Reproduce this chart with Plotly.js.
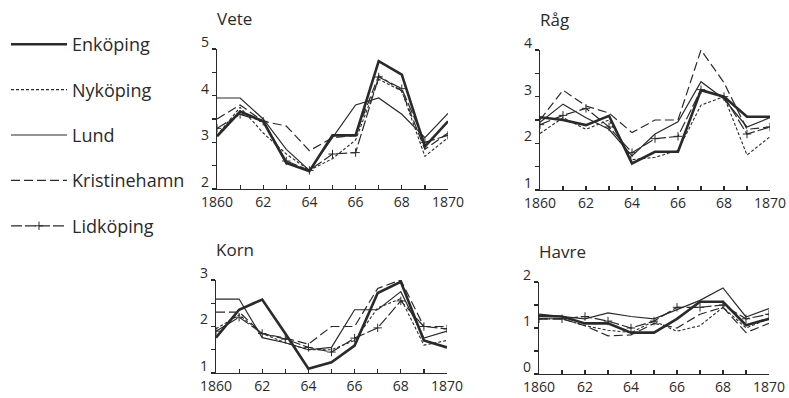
<!DOCTYPE html>
<html>
<head>
<meta charset="utf-8">
<script src="https://cdn.plot.ly/plotly-3.0.1.min.js"></script>
<style>html,body{margin:0;padding:0;background:#fff;}#chart{width:789px;height:398px;}</style>
</head>
<body>
<div id="chart"></div>
<script>
const years = [1860,1861,1862,1863,1864,1865,1866,1867,1868,1869,1870];
const cities = ["Enköping","Nyköping","Lund","Kristinehamn","Lidköping"];
const panelTitles = ["Vete","Råg","Korn","Havre"];
const xTickText = ["1860","","62","","64","","66","","68","","1870"];

const veteEnk   = [3.13,3.66,3.45,2.56,2.38,3.15,3.15,4.74,4.45,2.91,3.45];
const veteNyk   = [3.15,3.75,3.20,2.75,2.40,2.65,3.05,4.35,4.10,2.70,3.10];
const veteLund  = [3.95,3.95,3.50,2.85,2.40,3.10,3.80,3.95,3.60,3.10,3.62];
const veteKrist = [3.50,3.80,3.45,3.35,2.82,3.10,3.15,4.43,4.10,2.85,3.20];
const veteLid   = [3.30,3.60,3.45,2.60,2.40,2.75,2.78,4.40,4.15,3.00,3.15];

const ragEnk    = [2.56,2.50,2.39,2.59,1.57,1.82,1.82,3.14,3.00,2.57,2.57];
const ragNyk    = [2.21,2.55,2.30,2.50,1.65,1.70,1.85,2.82,3.00,1.75,2.14];
const ragLund   = [2.45,2.84,2.55,2.30,1.73,2.20,2.46,3.32,2.95,2.35,2.55];
const ragKrist  = [2.50,3.14,2.80,2.65,2.23,2.50,2.50,4.00,3.30,2.30,2.35];
const ragLid    = [2.40,2.60,2.75,2.35,1.80,2.10,2.15,3.15,3.00,2.20,2.35];

const kornEnk   = [1.76,2.36,2.58,1.85,1.09,1.23,1.59,2.72,2.96,1.70,1.55];
const kornNyk   = [1.95,2.25,1.85,1.65,1.50,1.50,1.70,2.40,2.60,1.60,1.70];
const kornLund  = [2.59,2.59,1.76,1.65,1.50,1.55,2.36,2.36,2.75,1.75,1.90];
const kornKrist = [2.31,2.31,1.85,1.75,1.62,2.00,2.00,2.82,3.00,2.00,2.00];
const kornLid   = [1.90,2.20,1.85,1.73,1.55,1.45,1.75,1.97,2.55,2.00,1.95];

const havreEnk   = [1.26,1.25,1.10,1.10,0.90,0.90,1.20,1.57,1.57,1.06,1.20];
const havreNyk   = [1.20,1.20,1.05,0.95,0.90,1.15,0.93,1.05,1.45,1.00,1.20];
const havreLund  = [1.30,1.25,1.20,1.33,1.25,1.20,1.40,1.60,1.87,1.24,1.42];
const havreKrist = [1.20,1.20,1.05,0.83,0.85,1.10,1.00,1.30,1.45,0.90,1.10];
const havreLid   = [1.20,1.20,1.25,1.15,1.00,1.15,1.45,1.45,1.50,1.20,1.30];

const panelData = [
  [veteEnk, veteNyk, veteLund, veteKrist, veteLid],
  [ragEnk, ragNyk, ragLund, ragKrist, ragLid],
  [kornEnk, kornNyk, kornLund, kornKrist, kornLid],
  [havreEnk, havreNyk, havreLund, havreKrist, havreLid]
];
const yRanges = [[2,5],[1,4],[1,3],[0,2]];

const ink = "#2a2a2a";
const styles = [
  {line:{color:ink, width:2.6, dash:"solid"}, mode:"lines"},
  {line:{color:ink, width:1.1, dash:"3px,2px"}, mode:"lines"},
  {line:{color:ink, width:1.2, dash:"solid"}, mode:"lines"},
  {line:{color:ink, width:1.2, dash:"9px,4px"}, mode:"lines"},
  {line:{color:ink, width:1.2, dash:"11px,3px"}, mode:"lines+markers",
   marker:{symbol:"cross-thin-open", size:6, color:ink, line:{color:ink, width:1}}}
];

const W = 789, H = 398;
// pixel boxes [left, right, top, bottom]
const boxes = [[217,448,49,189],[540,770,50,190],[216,447,280,373],[539,769,282,374]];

const traces = [];
panelData.forEach((series, p) => {
  const ax = p === 0 ? "" : String(p+1);
  series.forEach((vals, i) => {
    const t = {
      x: years, y: vals, type:"scatter",
      name: cities[i], legendgroup: cities[i],
      showlegend: p === 0,
      xaxis: "x"+ax, yaxis: "y"+ax,
      mode: styles[i].mode, line: styles[i].line, hoverinfo:"skip"
    };
    if (styles[i].marker) t.marker = styles[i].marker;
    traces.push(t);
  });
});

const fam = "Open Sans, DejaVu Sans, sans-serif";
const tickFont = {family:fam, size:14, color:ink};
const layout = {
  width: W, height: H,
  margin:{l:0,r:0,t:0,b:0},
  paper_bgcolor:"#ffffff", plot_bgcolor:"#ffffff",
  showlegend:true,
  legend:{x:6/W, y:1-26/H, xanchor:"left", yanchor:"top",
    font:{family:fam, size:18, color:ink},
    traceorder:"grouped", tracegroupgap:19, itemwidth:56, bgcolor:"rgba(0,0,0,0)"},
  annotations: [],
  font: tickFont
};
boxes.forEach((b, p) => {
  const ax = p === 0 ? "" : String(p+1);
  const [yl, yh] = yRanges[p];
  const yv = [], yt = [];
  for (let v = yl; v <= yh + 1e-9; v += 0.5) {
    yv.push(v);
    yt.push(Math.abs(v - Math.round(v)) < 1e-9 ? String(v) : "");
  }
  layout["xaxis"+ax] = {
    domain:[b[0]/W, b[1]/W], range:[1860,1870], anchor:"y"+ax,
    showline:true, linecolor:ink, linewidth:1.3, showgrid:false, zeroline:false,
    ticks:"inside", ticklen:4, tickwidth:1.2, tickcolor:ink,
    tickvals: years, ticktext: xTickText, tickfont: tickFont
  };
  layout["yaxis"+ax] = {
    domain:[1-b[3]/H, 1-b[2]/H], range:yRanges[p], anchor:"x"+ax,
    showline:true, linecolor:ink, linewidth:1.3, showgrid:false, zeroline:false,
    ticks:"outside", ticklen:4, tickwidth:1.2, tickcolor:ink,
    tickvals: yv, ticktext: yt, tickfont: {family:fam, size:14, color:ink}, ticklabelshift:-7
  };
  layout.annotations.push({
    text: panelTitles[p], xref:"x"+ax+" domain", yref:"y"+ax+" domain",
    x:0, y:1, xanchor:"left", yanchor:"bottom", yshift:17, xshift:-2, showarrow:false,
    font:{family:fam, size:17, color:ink}
  });
});

Plotly.newPlot("chart", traces, layout, {staticPlot:true});
</script>
</body>
</html>
